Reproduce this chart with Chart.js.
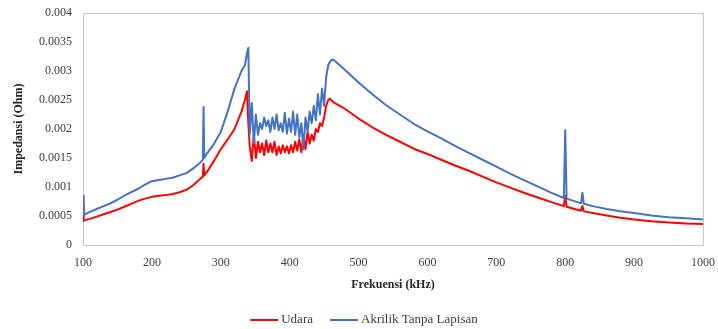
<!DOCTYPE html>
<html><head><meta charset="utf-8">
<script src="https://cdn.jsdelivr.net/npm/chart.js@4/dist/chart.umd.min.js"></script>
<style>html,body{margin:0;padding:0;background:#fff;overflow:hidden}#wrap{width:718px;height:329px;position:relative}</style>
</head><body><div id="wrap"><canvas id="c" width="718" height="329"></canvas></div>
<script>
// Frequency (kHz)
const freq = [
 100,101,110,120,130,140,150,160,170,180,190,200,210,220,230,240,250,260,270,274,275,276,280,290,300,310,320,330,335,338,340,
 342,345,348,351,354,357,360,363,366,369,372,375,378,381,384,387,390,393,396,399,
 402,405,408,411,414,417,420,423,426,429,432,435,438,441,444,447,450,453,
 456,458,460,462,465,480,500,520,540,560,580,600,620,640,660,680,700,720,740,760,780,
 798,800,802,820,823,825,827,840,860,880,900,925,950,975,1000
];
// Impedance (Ohm) - Udara
const udara = [
 0.0007,0.00042,0.00045,0.00049,0.00053,0.00057,0.00061,0.00066,0.00071,0.00076,0.0008,0.00083,0.00085,0.00086,0.00088,0.00091,0.00095,0.00103,0.00114,0.00118,0.0014,0.0012,0.00126,0.00145,0.00165,0.00182,0.002,0.0023,0.0025,0.00265,0.0021,
 0.0017,0.00145,0.0019,0.0015,0.00178,0.0016,0.00175,0.00155,0.0018,0.0016,0.00175,0.0016,0.00178,0.00155,0.0017,0.00158,0.00172,0.0016,0.0017,0.00158,
 0.00172,0.0016,0.00178,0.00163,0.00182,0.0016,0.0019,0.00165,0.00195,0.00175,0.0019,0.0018,0.002,0.00195,0.0021,0.00205,0.0022,0.0024,
 0.0025,0.00252,0.0025,0.00248,0.00245,0.00235,0.00218,0.00203,0.0019,0.00178,0.00166,0.00157,0.00147,0.00137,0.00128,0.00118,0.00108,0.00099,0.0009,0.00082,0.00074,
 0.00067,0.00085,0.00066,0.0006,0.00059,0.00067,0.00058,0.00055,0.00051,0.00047,0.00044,0.00041,0.00039,0.00037,0.00036
];
// Impedance (Ohm) - Akrilik Tanpa Lapisan
const akrilik = [
 0.00085,0.00052,0.00057,0.00062,0.00067,0.00072,0.00078,0.00085,0.00091,0.00097,0.00104,0.0011,0.00112,0.00114,0.00116,0.0012,0.00124,0.00132,0.00142,0.00147,0.00238,0.0015,0.00158,0.00174,0.00195,0.0023,0.0027,0.003,0.0031,0.0033,0.0034,
 0.0019,0.00245,0.00175,0.00225,0.0019,0.0021,0.002,0.0022,0.00205,0.00215,0.00195,0.0022,0.002,0.00225,0.00198,0.0021,0.00195,0.00228,0.00192,0.00218,
 0.00195,0.0023,0.0019,0.00225,0.00185,0.0021,0.00165,0.0022,0.00195,0.0023,0.0021,0.0024,0.00215,0.0026,0.00225,0.0027,0.0024,0.0029,
 0.0031,0.00315,0.00318,0.0032,0.00318,0.00302,0.0028,0.0026,0.00241,0.00225,0.00209,0.00196,0.00184,0.00171,0.00159,0.00147,0.00135,0.00123,0.00112,0.00101,0.0009,
 0.00081,0.00198,0.0008,0.00073,0.00072,0.0009,0.00071,0.00067,0.00062,0.00058,0.00055,0.00051,0.00048,0.00046,0.00044
];
const seriesNames = ['Udara', 'Akrilik Tanpa Lapisan'];
const seriesColors = ['#ff0000', '#4472c4'];
const xTitle = 'Frekuensi (kHz)';
const yTitle = 'Impedansi (Ohm)';

const SERIF = '"Liberation Serif", "Times New Roman", serif';

const boxPlugin = {
  id: 'plotBox',
  beforeDatasetsDraw(chart) {
    const {ctx, chartArea: a} = chart;
    ctx.save();
    ctx.strokeStyle = '#c8c8c8';
    ctx.lineWidth = 1;
    ctx.strokeRect(Math.round(a.left) + 0.5, Math.round(a.top) + 0.5, Math.round(a.right - a.left), Math.round(a.bottom - a.top));
    ctx.restore();
  }
};

const legendPlugin = {
  id: 'bottomLegend',
  afterDraw(chart) {
    const ctx = chart.ctx;
    ctx.save();
    ctx.font = '13px ' + SERIF;
    const lineLen = 28, gap = 3, itemGap = 17;
    const items = chart.data.datasets.map(d => ({text: d.label, color: d.borderColor, w: ctx.measureText(d.label).width}));
    const total = items.reduce((s, it) => s + lineLen + gap + it.w, 0) + itemGap * (items.length - 1);
    let x = chart.width / 2 + 5 - total / 2;
    const y = 320;
    ctx.textBaseline = 'middle';
    ctx.textAlign = 'left';
    items.forEach(it => {
      ctx.strokeStyle = it.color;
      ctx.lineWidth = 2;
      ctx.beginPath();
      ctx.moveTo(x, y); ctx.lineTo(x + lineLen, y); ctx.stroke();
      x += lineLen + gap;
      ctx.fillStyle = '#404040';
      ctx.fillText(it.text, x, y);
      x += it.w + itemGap;
    });
    ctx.restore();
  }
};

new Chart(document.getElementById('c'), {
  type: 'line',
  data: {
    datasets: [
      {label: seriesNames[0], data: freq.map((f, i) => ({x: f, y: udara[i]})), borderColor: seriesColors[0], backgroundColor: seriesColors[0], borderWidth: 2, pointRadius: 0, tension: 0, order: 2, borderJoinStyle: 'round'},
      {label: seriesNames[1], data: freq.map((f, i) => ({x: f, y: akrilik[i]})), borderColor: seriesColors[1], backgroundColor: seriesColors[1], borderWidth: 2, pointRadius: 0, tension: 0, order: 1, borderJoinStyle: 'round'}
    ]
  },
  options: {
    responsive: false,
    animation: false,
    devicePixelRatio: 1,
    layout: {padding: {left: 0, right: 15, top: 13, bottom: 0}},
    plugins: {legend: {display: false}, tooltip: {enabled: false}},
    scales: {
      x: {
        type: 'linear', min: 100, max: 1000,
        grid: {display: false}, border: {display: false},
        ticks: {stepSize: 100, padding: 3, color: '#404040', font: {family: SERIF, size: 12}, maxRotation: 0,
          callback: v => String(v)},
        title: {display: true, text: xTitle, color: '#262626', font: {family: SERIF, size: 12, weight: 'bold'}, padding: {top: 0, bottom: 37}},
        afterFit(s) { s.height = 84; }
      },
      y: {
        min: 0, max: 0.004,
        grid: {display: false}, border: {display: false},
        ticks: {stepSize: 0.0005, padding: 3, color: '#404040', font: {family: SERIF, size: 12},
          callback: v => String(parseFloat(Number(v).toFixed(4)))},
        title: {display: true, text: yTitle, color: '#262626', font: {family: SERIF, size: 12, weight: 'bold'}, padding: {top: 12, bottom: 0}},
        afterFit(s) { s.width = 83; s.paddingTop = 4; s.paddingBottom = 4; }
      }
    }
  },
  plugins: [boxPlugin, legendPlugin]
});
</script>
</body></html>
